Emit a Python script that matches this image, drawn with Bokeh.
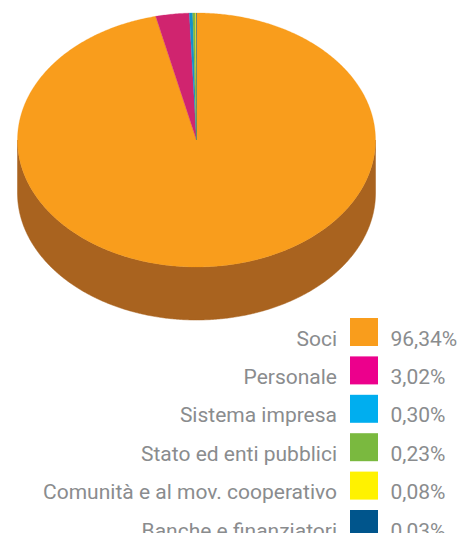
import numpy as np
from bokeh.core.properties import value
from bokeh.embed import file_html
from bokeh.models import Range1d
from bokeh.plotting import figure
from bokeh.resources import INLINE

# Shares of the distributed value, in percent
categories = ["Soci", "Personale", "Sistema impresa", "Stato ed enti pubblici",
              "Comunità e al mov. cooperativo", "Banche e finanziatori"]
shares = [96.34, 3.02, 0.30, 0.23, 0.08, 0.03]
share_labels = ["96,34%", "3,02%", "0,30%", "0,23%", "0,08%", "0,03%"]

# The pie top is rendered a little duller than the legend swatches
slice_colors = ["#F99D1C", "#D0246F", "#1390CC", "#7FB541", "#FFE11A", "#0B5C8F"]
swatch_colors = ["#F99D1C", "#EC008C", "#00AEEF", "#7AB93F", "#FFF200", "#00558C"]
side_color = "#A9631F"
text_color = "#8A8C8E"

CX, CY, RX, RY, DEPTH = 196.0, 139.5, 179.0, 127.0, 53.0
W, H = 459, 533

p = figure(width=W, height=H, output_backend="svg", toolbar_location=None,
           x_range=Range1d(0, W), y_range=Range1d(H, 0), min_border=0)
p.axis.visible = False
p.grid.visible = False
p.outline_line_color = None
p.background_fill_color = "white"
p.border_fill_color = "white"


def rim(start, stop, dy=0.0):
    """Points along the tilted pie's rim, angles clockwise from twelve o'clock."""
    t = np.radians(np.linspace(start, stop, max(int(abs(stop - start) * 2), 2)))
    return CX + RX * np.sin(t), CY + dy - RY * np.cos(t)


# Front wall: the lower half of the rim, and the same arc pushed down by the depth
tx, ty = rim(90, 270)
bx, by = rim(270, 90, DEPTH)
p.patch(list(tx) + list(bx), list(ty) + list(by), fill_color=side_color, line_color=side_color, line_width=0.5)

# Top face, one wedge per share, clockwise from the vertical
edges = np.concatenate([[0.0], np.cumsum(shares)]) / sum(shares) * 360.0
xs, ys = [], []
for a, b in zip(edges[:-1], edges[1:]):
    rx_, ry_ = rim(a, b)
    xs.append([CX] + list(rx_))
    ys.append([CY] + list(ry_))
p.patches(xs, ys, fill_color=slice_colors, line_color=slice_colors, line_width=0.3)

# Legend rows: label, swatch, value
rows = np.arange(len(categories))
row_tops = 317.5 + 38.4 * rows
baselines = 338 + 38.4 * rows
p.quad(left=349.5, right=377.5, top=row_tops, bottom=row_tops + 28, fill_color=swatch_colors, line_color=None)
font = value("Roboto")
p.text(x=[336.5] * len(categories), y=baselines, text=categories, text_align="right", text_baseline="alphabetic",
       text_color=text_color, text_font=font, text_font_size="21px")
p.text(x=[390] * len(categories), y=baselines, text=share_labels, text_align="left", text_baseline="alphabetic",
       text_color=text_color, text_font=font, text_font_size="21px")

open("out.html", "w").write(file_html(p, INLINE))
